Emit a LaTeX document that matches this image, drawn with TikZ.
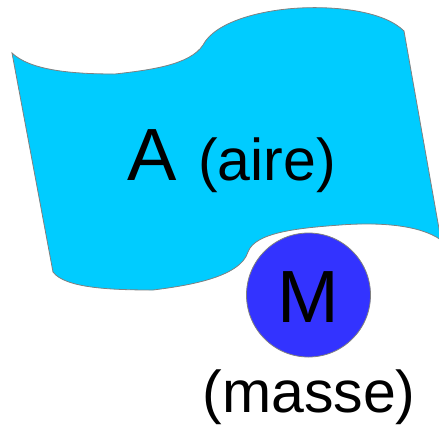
\documentclass[tikz,border=0pt]{standalone}
\usepackage{fontspec}
\setmainfont{Liberation Sans}
\usepackage{xcolor}
\usepackage{tikz}
\usetikzlibrary{
positioning
}

\definecolor{aireCyan}{HTML}{00CCFF}
\definecolor{masseBlue}{HTML}{3333FF}
\definecolor{edgeGray}{HTML}{808080}

\begin{document}
\begin{tikzpicture}[
x=1pt,y=-1pt,
flag/.style={
fill=aireCyan,
draw=edgeGray,
line width=0.8pt
},
mass/.style={
circle,
fill=masseBlue,
draw=edgeGray,
line width=0.8pt,
minimum size=124pt,
inner sep=0pt
},
big/.style={
inner sep=0pt,
font=\fontsize{74}{80}\selectfont
},
small/.style={
inner sep=0pt,
font=\fontsize{59}{64}\selectfont
}
]

\useasboundingbox (0,0) rectangle (439,424);

% the surface (aire)
\draw[flag] (12,53)
.. controls (30,70) and (70,74) .. (115,74)
.. controls (150,70) and (190,65) .. (203,45)
.. controls (215,22) and (260,10) .. (300,8)
.. controls (340,6) and (385,12) .. (404,31)
-- (441,240)
.. controls (420,225) and (380,222) .. (340,225)
.. controls (300,228) and (255,232) .. (248,252)
.. controls (240,278) and (185,286) .. (153,290)
.. controls (110,290) and (65,288) .. (53,272)
-- cycle;

\node[big,anchor=base west] (aname) at (127,180) {A};
\node[small,anchor=base west] (aire) at (198,180) {(aire)};

% the mass
\node[mass] (masse) at (308.5,295) {};
\node[big,anchor=base] (mname) at (308.5,322) {M};
\node[small,anchor=base] (massetxt) at (309,412) {(masse)};

\end{tikzpicture}
\end{document}
